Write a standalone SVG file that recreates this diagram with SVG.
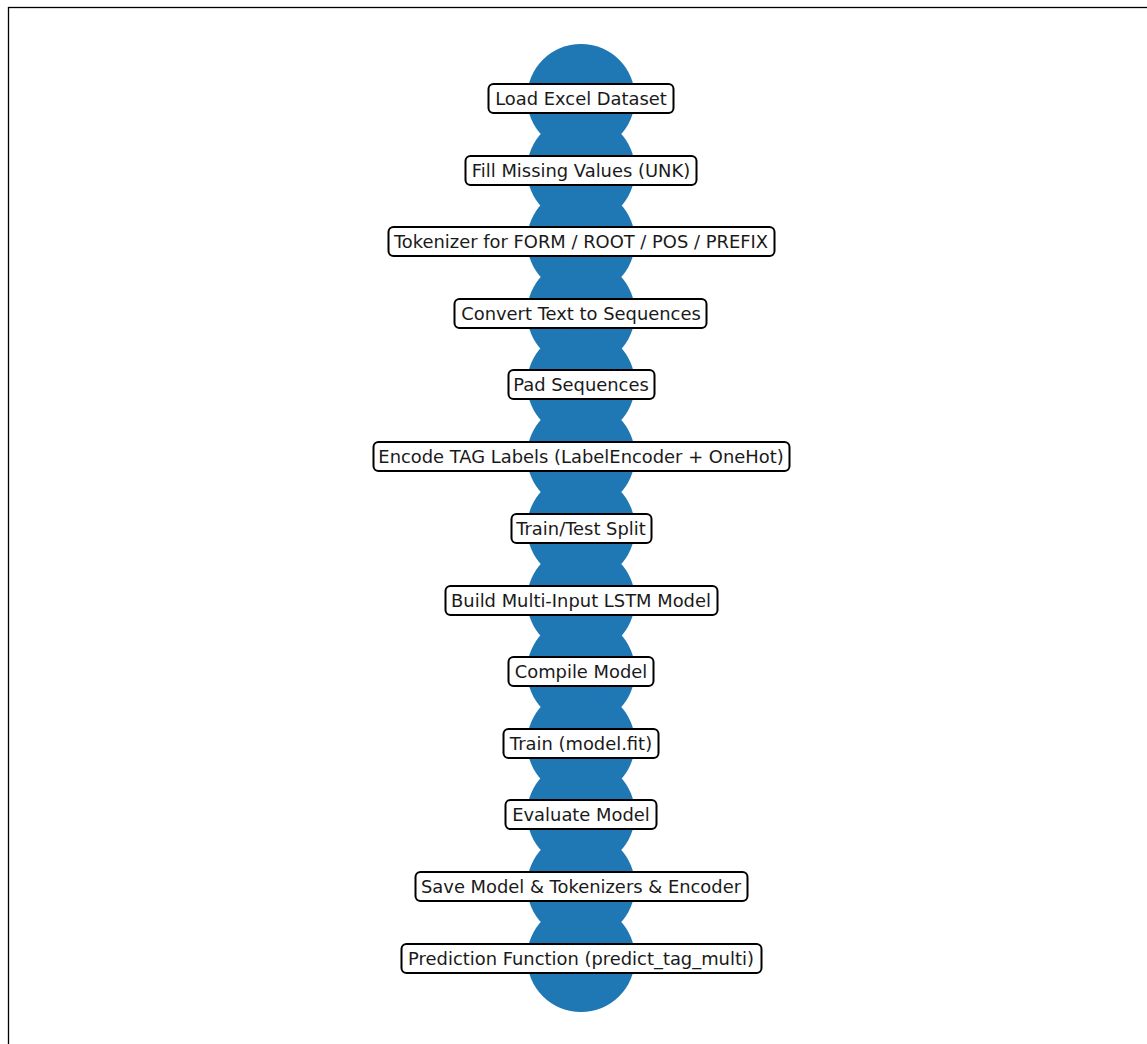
<svg xmlns="http://www.w3.org/2000/svg" width="1147" height="1044" viewBox="0 0 1147 1044">
<style>
.n{fill:#1f77b4}
.b{fill:#ffffff;stroke:#000000;stroke-width:2}
.t{font-family:"DejaVu Sans",sans-serif;font-size:17.9px;fill:#1a1a1a;text-anchor:middle}
.e{stroke:#000000;stroke-width:1}
</style>
<rect x="0" y="0" width="1147" height="1044" fill="#ffffff"/>
<rect x="8.5" y="7.5" width="1150" height="1050" fill="none" stroke="#000000" stroke-width="1.3"/>
<g id="connectors">
<line class="e" x1="581" y1="98" x2="581" y2="958"/>
</g>
<g id="circles">
<circle class="n" cx="581" cy="98" r="54"/>
<circle class="n" cx="581" cy="170" r="54"/>
<circle class="n" cx="581" cy="241" r="54"/>
<circle class="n" cx="581" cy="313" r="54"/>
<circle class="n" cx="581" cy="384" r="54"/>
<circle class="n" cx="581" cy="456" r="54"/>
<circle class="n" cx="581" cy="528" r="54"/>
<circle class="n" cx="581" cy="600" r="54"/>
<circle class="n" cx="581" cy="671" r="54"/>
<circle class="n" cx="581" cy="743" r="54"/>
<circle class="n" cx="581" cy="814" r="54"/>
<circle class="n" cx="581" cy="886" r="54"/>
<circle class="n" cx="581" cy="958" r="54"/>
</g>
<g id="n1"><rect class="b" x="488.5" y="84" width="185" height="29" rx="5"/><text class="t" x="581" y="104.5">Load Excel Dataset</text></g>
<g id="n2"><rect class="b" x="465.5" y="156" width="231" height="29" rx="5"/><text class="t" x="581" y="176.5">Fill Missing Values (UNK)</text></g>
<g id="n3"><rect class="b" x="388.5" y="227" width="386" height="29" rx="5"/><text class="t" x="581" y="247.5">Tokenizer for FORM / ROOT / POS / PREFIX</text></g>
<g id="n4"><rect class="b" x="454.5" y="299" width="252" height="29" rx="5"/><text class="t" x="581" y="319.5">Convert Text to Sequences</text></g>
<g id="n5"><rect class="b" x="508.5" y="370" width="146" height="29" rx="5"/><text class="t" x="581" y="390.5">Pad Sequences</text></g>
<g id="n6"><rect class="b" x="373.5" y="442" width="416" height="29" rx="5"/><text class="t" x="581" y="462.5">Encode TAG Labels (LabelEncoder + OneHot)</text></g>
<g id="n7"><rect class="b" x="511.5" y="514" width="140" height="29" rx="5"/><text class="t" x="581" y="534.5">Train/Test Split</text></g>
<g id="n8"><rect class="b" x="445.5" y="586" width="272" height="29" rx="5"/><text class="t" x="581" y="606.5">Build Multi-Input LSTM Model</text></g>
<g id="n9"><rect class="b" x="508.5" y="657" width="145" height="29" rx="5"/><text class="t" x="581" y="677.5">Compile Model</text></g>
<g id="n10"><rect class="b" x="503.5" y="729" width="155" height="29" rx="5"/><text class="t" x="581" y="749.5">Train (model.fit)</text></g>
<g id="n11"><rect class="b" x="505.5" y="800" width="151" height="29" rx="5"/><text class="t" x="581" y="820.5">Evaluate Model</text></g>
<g id="n12"><rect class="b" x="415.5" y="872" width="332" height="29" rx="5"/><text class="t" x="581" y="892.5">Save Model &amp; Tokenizers &amp; Encoder</text></g>
<g id="n13"><rect class="b" x="401.5" y="944" width="360" height="29" rx="5"/><text class="t" x="581" y="964.5">Prediction Function (predict_tag_multi)</text></g>
</svg>
